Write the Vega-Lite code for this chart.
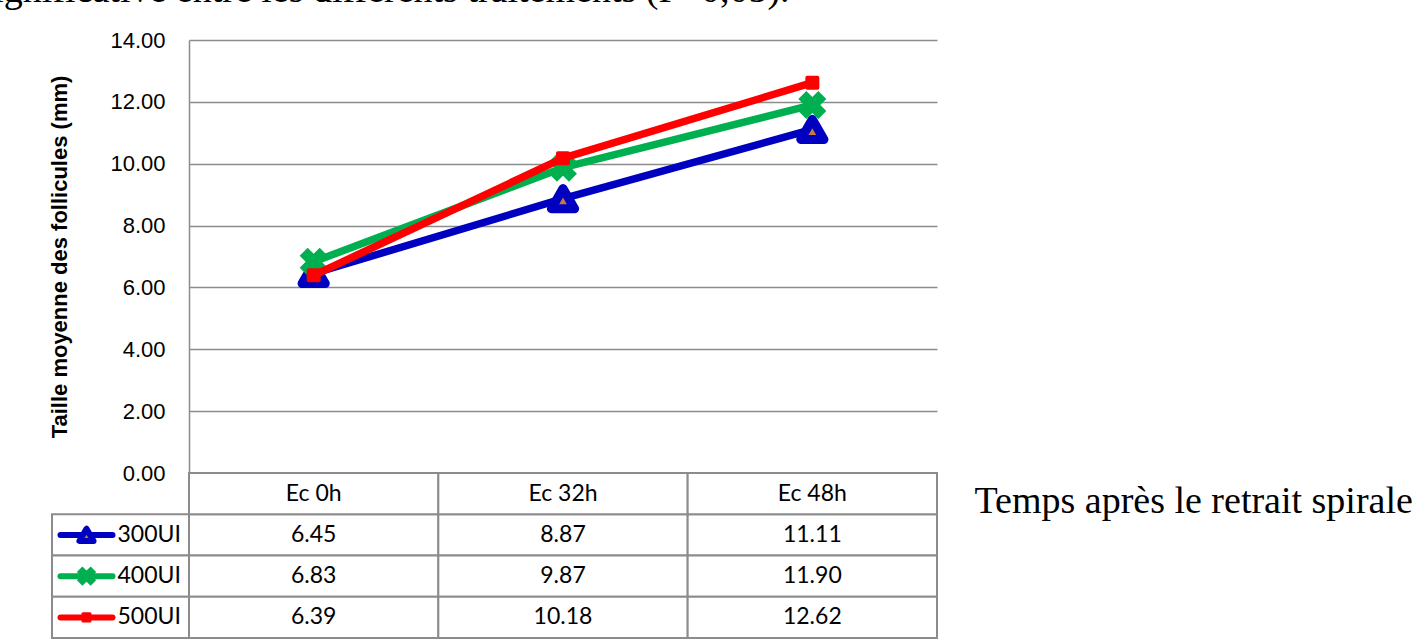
{
  "$schema": "https://vega.github.io/schema/vega-lite/v6.json",
  "background": "white",
  "padding": {"left": -22, "top": -28, "right": 5, "bottom": 5},
  "title": {
    "text": "significative entre les différents traitements (P>0,05).",
    "anchor": "start", "frame": "bounds", "font": "Liberation Serif", "fontSize": 38,
    "fontWeight": "normal", "color": "#000", "dx": -70, "offset": 19
  },
  "bounds": "flush",
  "spacing": 0,
  "columns": 2,
  "config": {"view": {"stroke": null}, "font": "Liberation Sans"},
  "datasets": {
    "mesures": [
      {"serie": "300UI", "temps": "Ec 0h", "valeur": 6.45},
      {"serie": "300UI", "temps": "Ec 32h", "valeur": 8.87},
      {"serie": "300UI", "temps": "Ec 48h", "valeur": 11.11},
      {"serie": "400UI", "temps": "Ec 0h", "valeur": 6.83},
      {"serie": "400UI", "temps": "Ec 32h", "valeur": 9.87},
      {"serie": "400UI", "temps": "Ec 48h", "valeur": 11.90},
      {"serie": "500UI", "temps": "Ec 0h", "valeur": 6.39},
      {"serie": "500UI", "temps": "Ec 32h", "valeur": 10.18},
      {"serie": "500UI", "temps": "Ec 48h", "valeur": 12.62}
    ]
  },
  "concat": [
    {
      "width": 137,
      "height": 433,
      "data": {"values": []},
      "mark": {"type": "point", "opacity": 0},
      "encoding": {}
    },
    {
      "width": 748,
      "height": 433,
      "data": {"name": "mesures"},
      "encoding": {
        "x": {"field": "temps", "type": "nominal", "sort": ["Ec 0h", "Ec 32h", "Ec 48h"], "scale": {"paddingInner": 0, "paddingOuter": 0}, "axis": null},
        "y": {
          "field": "valeur", "type": "quantitative",
          "scale": {"domain": [0, 14], "nice": false},
          "axis": {
            "values": [0, 2, 4, 6, 8, 10, 12, 14], "format": ".2f", "ticks": false,
            "labelFont": "Liberation Sans", "labelFontSize": 22, "labelColor": "#000", "labelPadding": 24,
            "domainColor": "#8c8c8c", "domainWidth": 1.5, "grid": true, "gridColor": "#8c8c8c", "gridWidth": 1.5,
            "title": "Taille moyenne des follicules (mm)", "titleFont": "Liberation Sans", "titleFontSize": 22,
            "titleFontWeight": "bold", "titleColor": "#000", "titlePadding": 38
          }
        }
      },
      "layer": [
        {"transform": [{"filter": "datum.serie === '300UI'"}], "mark": {"type": "line", "color": "#0000C0", "strokeWidth": 7.5, "strokeCap": "round", "strokeJoin": "round"}},
        {"transform": [{"filter": "datum.serie === '300UI'"}], "mark": {"type": "point", "shape": "triangle-up", "filled": true, "fill": "#C97A3A", "stroke": "#0000C0", "strokeWidth": 9, "strokeJoin": "round", "size": 540, "opacity": 1}},
        {"transform": [{"filter": "datum.serie === '400UI'"}], "mark": {"type": "line", "color": "#00B050", "strokeWidth": 7.5, "strokeCap": "round", "strokeJoin": "round"}},
        {"transform": [{"filter": "datum.serie === '400UI'"}], "mark": {"type": "point", "shape": "cross", "angle": 45, "filled": true, "color": "#00B050", "size": 800, "opacity": 1}},
        {"transform": [{"filter": "datum.serie === '500UI'"}], "mark": {"type": "line", "color": "#FF0000", "strokeWidth": 7.5, "strokeCap": "round", "strokeJoin": "round"}},
        {"transform": [{"filter": "datum.serie === '500UI'"}], "mark": {"type": "point", "shape": "square", "filled": true, "fill": "#FF0000", "stroke": "#FF0000", "strokeWidth": 4, "strokeJoin": "round", "size": 100, "opacity": 1}}
      ]
    },
    {
      "width": 137,
      "height": 165,
      "data": {"name": "mesures"},
      "transform": [{"filter": "datum.temps === 'Ec 0h'"}],
      "encoding": {
        "y": {"field": "serie", "type": "nominal", "scale": {"domain": ["Temps", "300UI", "400UI", "500UI"], "paddingInner": 0, "paddingOuter": 0}, "axis": null}
      },
      "layer": [
        {"mark": {"type": "rect", "fill": "white", "stroke": "#8c8c8c", "strokeWidth": 2}},
        {"transform": [{"filter": "datum.serie === '300UI'"}], "mark": {"type": "point", "shape": "stroke", "filled": false, "stroke": "#0000C0", "strokeWidth": 6, "strokeCap": "round", "size": 2704, "opacity": 1}, "encoding": {"xOffset": {"value": -34}}},
        {"transform": [{"filter": "datum.serie === '300UI'"}], "mark": {"type": "point", "shape": "triangle-up", "filled": true, "fill": "#C97A3A", "stroke": "#0000C0", "strokeWidth": 6, "strokeJoin": "round", "size": 200, "opacity": 1}, "encoding": {"xOffset": {"value": -34}}},
        {"transform": [{"filter": "datum.serie === '400UI'"}], "mark": {"type": "point", "shape": "stroke", "filled": false, "stroke": "#00B050", "strokeWidth": 6, "strokeCap": "round", "size": 2704, "opacity": 1}, "encoding": {"xOffset": {"value": -34}}},
        {"transform": [{"filter": "datum.serie === '400UI'"}], "mark": {"type": "point", "shape": "cross", "angle": 45, "filled": true, "color": "#00B050", "size": 380, "opacity": 1}, "encoding": {"xOffset": {"value": -34}}},
        {"transform": [{"filter": "datum.serie === '500UI'"}], "mark": {"type": "point", "shape": "stroke", "filled": false, "stroke": "#FF0000", "strokeWidth": 6, "strokeCap": "round", "size": 2704, "opacity": 1}, "encoding": {"xOffset": {"value": -34}}},
        {"transform": [{"filter": "datum.serie === '500UI'"}], "mark": {"type": "point", "shape": "square", "filled": true, "fill": "#FF0000", "stroke": "#FF0000", "strokeWidth": 3, "strokeJoin": "round", "size": 50, "opacity": 1}, "encoding": {"xOffset": {"value": -34}}},
        {"mark": {"type": "text", "align": "left", "baseline": "middle", "dx": -3, "font": "Lato", "fontSize": 23, "color": "#000"}, "encoding": {"text": {"field": "serie"}}}
      ]
    },
    {
      "width": 748,
      "height": 165,
      "data": {"name": "mesures"},
      "encoding": {
        "x": {"field": "temps", "type": "nominal", "sort": ["Ec 0h", "Ec 32h", "Ec 48h"], "scale": {"paddingInner": 0, "paddingOuter": 0}, "axis": null}
      },
      "layer": [
        {
          "encoding": {
            "y": {
              "field": "serie", "type": "nominal",
              "scale": {"domain": ["Temps", "300UI", "400UI", "500UI"], "paddingInner": 0, "paddingOuter": 0},
              "axis": {
                "orient": "right", "labels": false, "ticks": false, "domain": false, "grid": false,
                "title": "Temps après le retrait spirale", "titleAngle": 0, "titleAlign": "left", "titleBaseline": "alphabetic",
                "titleFont": "Liberation Serif", "titleFontSize": 38, "titleFontWeight": "normal", "titleColor": "#000",
                "titleX": 37, "titleY": 39
              }
            }
          },
          "layer": [
            {"mark": {"type": "rect", "fill": "white", "stroke": "#8c8c8c", "strokeWidth": 2}},
            {"mark": {"type": "text", "baseline": "middle", "font": "Lato", "fontSize": 23, "color": "#000"}, "encoding": {"text": {"field": "valeur", "type": "quantitative", "format": ".2f"}}}
          ]
        },
        {
          "transform": [{"filter": "datum.serie === '300UI'"}],
          "encoding": {"y": {"datum": "Temps", "type": "nominal"}},
          "layer": [
            {"mark": {"type": "rect", "fill": "white", "stroke": "#8c8c8c", "strokeWidth": 2}},
            {"mark": {"type": "text", "baseline": "middle", "font": "Lato", "fontSize": 23, "color": "#000"}, "encoding": {"text": {"field": "temps"}}}
          ]
        }
      ]
    }
  ]
}
